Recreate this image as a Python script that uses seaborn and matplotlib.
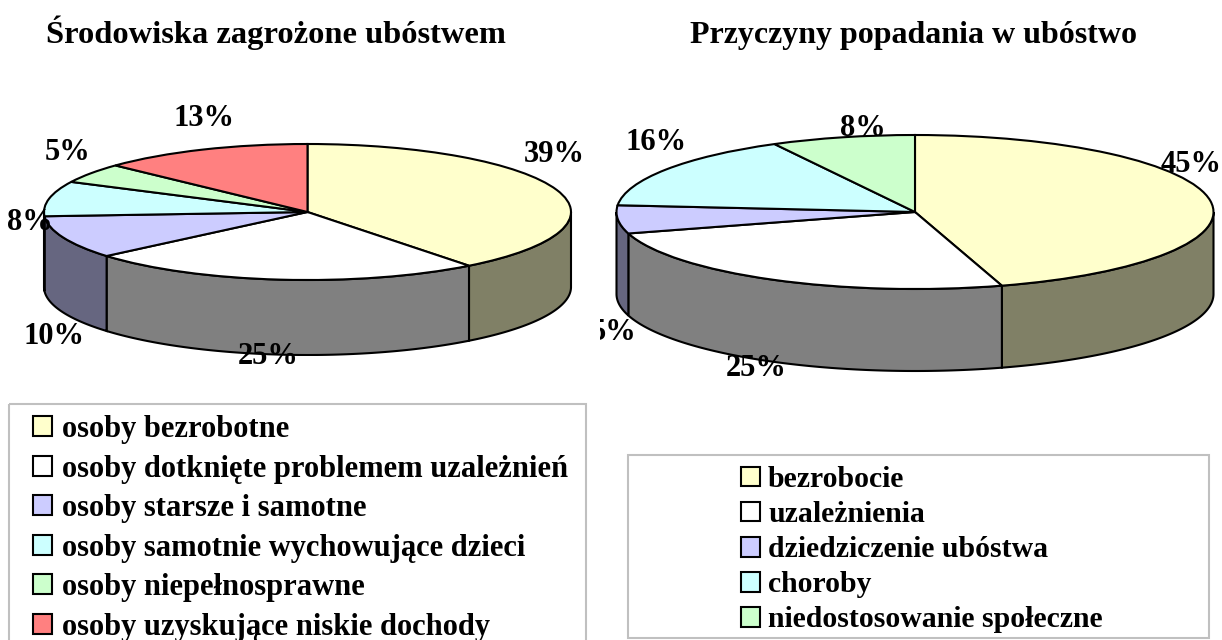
import numpy as np
import matplotlib
matplotlib.use("Agg")
import matplotlib.pyplot as plt
from matplotlib.patches import Patch, Rectangle
from matplotlib.transforms import Bbox, Affine2D
import seaborn as sns

left_title = "Środowiska zagrożone ubóstwem"
left_labels = ["osoby bezrobotne", "osoby dotknięte problemem uzależnień", "osoby starsze i samotne",
	"osoby samotnie wychowujące dzieci", "osoby niepełnosprawne", "osoby uzyskujące niskie dochody"]
# slice sizes as measured on the pie, printed percentages separately
left_values = [39.5, 24.3, 10.2, 8.3, 4.7, 13]
left_pct = ["39%", "25%", "10%", "8%", "5%", "13%"]

right_title = "Przyczyny popadania w ubóstwo"
right_labels = ["bezrobocie", "uzależnienia", "dziedziczenie ubóstwa", "choroby", "niedostosowanie społeczne"]
right_values = [45.3, 25.2, 5.9, 15.8, 7.8]
right_pct = ["45%", "25%", "5%", "16%", "8%"]

left_colors = ["#FFFFCC", "#FFFFFF", "#CCCCFF", "#CCFFFF", "#CCFFCC", "#FF8080"]
right_colors = left_colors[:5]

sns.set_theme(style="white")
plt.rcParams['font.family'] = ['Liberation Serif', 'DejaVu Serif']
plt.rcParams['font.weight'] = 'bold'
plt.rcParams['text.color'] = 'black'

W, H = 1222, 640
fig = plt.figure(figsize=(W / 100, H / 100), dpi=100)
# image pixels, y pointing down
px = Affine2D().scale(1 / W, -1 / H).translate(0, 1) + fig.transFigure


def draw_pie(values, colors, cx, cy, rx, ry, depth):
	pad = 0.02
	bottom = -1 - depth / ry - pad
	x0 = cx - (1 + pad) * rx
	w = 2 * (1 + pad) * rx
	y1 = cy + (-bottom) * ry
	h = (1 + pad - bottom) * ry
	ax = fig.add_axes([x0 / W, 1 - y1 / H, w / W, h / H])
	wedges, _ = ax.pie(values, colors=colors, startangle=90, counterclock=False,
		wedgeprops=dict(edgecolor="black", linewidth=1.5))
	d = depth / ry
	for wedge, c in zip(wedges, colors):
		# only the front half of the ring shows
		a = max(wedge.theta1, -180)
		b = min(wedge.theta2, 0)
		if a >= b:
			continue
		t = np.radians(np.linspace(a, b, 120))
		xs = np.r_[np.cos(t), np.cos(t)[::-1]]
		ys = np.r_[np.sin(t), np.sin(t)[::-1] - d]
		dark = np.array(matplotlib.colors.to_rgb(c)) * 0.5
		ax.fill(xs, ys, facecolor=dark, edgecolor="black", linewidth=1.5, zorder=0.5)
	ax.set_aspect("auto")
	ax.set_xlim(-1 - pad, 1 + pad)
	ax.set_ylim(bottom, 1 + pad)
	ax.axis("off")
	return ax


def pct(x, y, s, clip_x=None):
	t = fig.text(x, y, s, transform=px, ha="center", va="center", fontsize=22, color="black", zorder=5)
	if clip_x is not None:
		t.set_clip_box(Bbox([[clip_x, 0], [W, H]]))
		t.set_clip_on(True)


def legend(labels, colors, x, y, fontsize, spacing, pad):
	handles = [Patch(facecolor=c, edgecolor="black", linewidth=1.5) for c in colors]
	fig.legend(handles, labels, loc="upper left", bbox_to_anchor=(x, y), bbox_transform=px,
		frameon=False, fontsize=fontsize, borderpad=0, borderaxespad=0, labelspacing=spacing,
		handlelength=19 * 0.72 / fontsize, handleheight=19 * 0.72 / fontsize, handletextpad=pad,
		labelcolor="black")


draw_pie(left_values, left_colors, 307.5, 212, 263.5, 68, 75)
draw_pie(right_values, right_colors, 915, 212, 298.5, 77, 82)

fig.text(276, 43, left_title, transform=px, ha="center", va="baseline", fontsize=23.4, color="black")
fig.text(914, 43, right_title, transform=px, ha="center", va="baseline", fontsize=23, color="black")

left_pct_pos = [(554, 155), (268, 356), (54, 337), (30, 223), (68, 153), (204, 119)]
for (x, y), s in zip(left_pct_pos, left_pct):
	pct(x, y, s)
right_pct_pos = [(1191, 164), (756, 369), (614, 332), (656, 143), (863, 128)]
for (x, y), s in zip(right_pct_pos, right_pct):
	pct(x, y, s, clip_x=600 if s == "5%" else None)

fig.add_artist(Rectangle((9, 404), 577, 260, transform=px, facecolor="none", edgecolor="#C0C0C0", linewidth=1.5))
fig.add_artist(Rectangle((628, 455), 581, 183, transform=px, facecolor="none", edgecolor="#C0C0C0", linewidth=1.5))

legend(left_labels, left_colors, 33, 415, 22, 0.345, 0.33)
legend(right_labels, right_colors, 741, 466, 21.4, 0.272, 0.27)

fig.savefig("out.png", dpi=100)
